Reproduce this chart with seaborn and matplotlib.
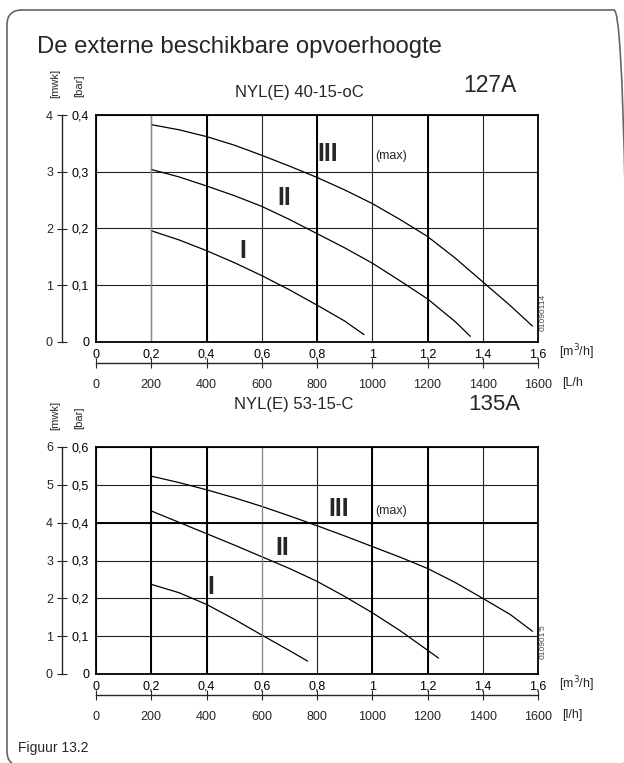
import pandas as pd
import matplotlib.pyplot as plt
import seaborn as sns
from matplotlib.patches import FancyBboxPatch
from matplotlib.ticker import FuncFormatter, MultipleLocator

# pump curves: flow [m3/h] -> head [bar]
top_I_flow = [0.2, 0.3, 0.4, 0.5, 0.6, 0.7, 0.8, 0.9, 0.97]
top_I_head = [0.196, 0.18, 0.161, 0.14, 0.117, 0.092, 0.065, 0.037, 0.013]
top_II_flow = [0.2, 0.3, 0.4, 0.5, 0.6, 0.7, 0.8, 0.9, 1.0, 1.1, 1.2, 1.3, 1.355]
top_II_head = [0.304, 0.291, 0.275, 0.258, 0.239, 0.216, 0.191, 0.166, 0.139, 0.108, 0.076, 0.036, 0.010]
top_III_flow = [0.2, 0.3, 0.4, 0.5, 0.6, 0.7, 0.8, 0.9, 1.0, 1.1, 1.2, 1.3, 1.4, 1.5, 1.58]
top_III_head = [0.383, 0.374, 0.362, 0.347, 0.329, 0.31, 0.29, 0.268, 0.244, 0.216, 0.186, 0.148, 0.106, 0.064, 0.028]

bot_I_flow = [0.2, 0.3, 0.4, 0.5, 0.6, 0.7, 0.766]
bot_I_head = [0.237, 0.215, 0.184, 0.145, 0.103, 0.062, 0.034]
bot_II_flow = [0.2, 0.3, 0.4, 0.5, 0.6, 0.7, 0.8, 0.9, 1.0, 1.1, 1.2, 1.24]
bot_II_head = [0.431, 0.401, 0.371, 0.341, 0.31, 0.279, 0.245, 0.205, 0.162, 0.115, 0.063, 0.042]
bot_III_flow = [0.2, 0.3, 0.4, 0.5, 0.6, 0.7, 0.8, 0.9, 1.0, 1.1, 1.2, 1.3, 1.4, 1.5, 1.58]
bot_III_head = [0.523, 0.506, 0.487, 0.466, 0.443, 0.418, 0.392, 0.365, 0.337, 0.309, 0.279, 0.242, 0.2, 0.157, 0.113]

mwk_top = [0, 1, 2, 3, 4]
mwk_bot = [0, 1, 2, 3, 4, 5, 6]
lh_ticks = [0, 200, 400, 600, 800, 1000, 1200, 1400, 1600]


def make_df(flows, heads):
    parts = []
    for name, f, h in zip(['I', 'II', 'III'], flows, heads):
        parts.append(pd.DataFrame({'flow': f, 'head': h, 'stand': name}))
    return pd.concat(parts, ignore_index=True)


df_top = make_df([top_I_flow, top_II_flow, top_III_flow], [top_I_head, top_II_head, top_III_head])
df_bot = make_df([bot_I_flow, bot_II_flow, bot_III_flow], [bot_I_head, bot_II_head, bot_III_head])

sns.set_style("white")
plt.rcParams['font.family'] = ['Liberation Sans', 'DejaVu Sans']

W, H = 624, 763
fig = plt.figure(figsize=(W / 100, H / 100), dpi=100)

comma = FuncFormatter(lambda v, p: f'{v:g}'.replace('.', ','))


def panel(top_px, df, ymax, mwk, lh_unit):
    ax = fig.add_axes([96 / W, 1 - (top_px + 227) / H, 442 / W, 227 / H])
    sns.lineplot(data=df, x='flow', y='head', hue='stand', palette=['black'] * 3,
                 legend=False, ax=ax, lw=0.9)
    ax.set_xlim(0, 1.6)
    ax.set_ylim(0, ymax)
    ax.xaxis.set_major_locator(MultipleLocator(0.2))
    ax.yaxis.set_major_locator(MultipleLocator(0.1))
    ax.xaxis.set_major_formatter(comma)
    ax.yaxis.set_major_formatter(comma)
    ax.grid(True, color='#222222', lw=0.8)
    ax.set_xlabel('')
    ax.set_ylabel('')
    for s in ax.spines.values():
        s.set_visible(True)
        s.set_color('black')
        s.set_linewidth(1.3)
    ax.tick_params(direction='out', length=3, width=0.8, labelsize=9, pad=2, colors='black')

    # second scale in mwk on the left
    sy = ax.secondary_yaxis(-0.077, functions=(lambda v: v * 10, lambda v: v / 10))
    sy.set_yticks(mwk)
    sy.tick_params(direction='inout', length=7, width=0.8, labelsize=9, pad=3)
    sy.spines['left'].set_linewidth(1.0)

    # second scale in l/h below
    sx = ax.secondary_xaxis(-0.0925, functions=(lambda v: v * 1000, lambda v: v / 1000))
    sx.set_xticks(lh_ticks)
    sx.tick_params(direction='inout', length=7, width=0.8, labelsize=9, pad=8)
    sx.spines['bottom'].set_linewidth(1.0)

    fig.text(559 / W, 1 - (top_px + 237) / H, '[m$^3$/h]', fontsize=9, va='center')
    fig.text(562 / W, 1 - (top_px + 268) / H, lh_unit, fontsize=9, va='center')
    fig.text(55 / W, 1 - (top_px - 32) / H, '[mwk]', fontsize=8, rotation=90, ha='center', va='center')
    fig.text(79 / W, 1 - (top_px - 29) / H, '[bar]', fontsize=8, rotation=90, ha='center', va='center')
    return ax


ax1 = panel(115, df_top, 0.4, mwk_top, '[L/h')
ax2 = panel(447, df_bot, 0.6, mwk_bot, '[l/h]')

# heavier grid lines as in the original print
for x in [0.4, 0.8, 1.2]:
    ax1.axvline(x, color='black', lw=1.4)
ax1.axvline(0.2, color='#888888', lw=1.0)
for x in [0.2, 0.4, 1.0, 1.2]:
    ax2.axvline(x, color='black', lw=1.4)
ax2.axvline(0.6, color='#888888', lw=0.8)
ax2.axhline(0.4, color='black', lw=1.4)

# curve labels
ax1.text(0.84, 0.332, 'III', fontsize=18, fontweight='bold', ha='center', va='center')
ax1.text(1.01, 0.328, '(max)', fontsize=9, va='center')
ax1.text(0.68, 0.253, 'II', fontsize=18, fontweight='bold', ha='center', va='center')
ax1.text(0.53, 0.161, 'I', fontsize=18, fontweight='bold', ha='center', va='center')
ax2.text(0.88, 0.435, 'III', fontsize=18, fontweight='bold', ha='center', va='center')
ax2.text(1.01, 0.432, '(max)', fontsize=9, va='center')
ax2.text(0.675, 0.332, 'II', fontsize=18, fontweight='bold', ha='center', va='center')
ax2.text(0.415, 0.23, 'I', fontsize=18, fontweight='bold', ha='center', va='center')

# titles
fig.text(37 / W, 1 - 47 / H, 'De externe beschikbare opvoerhoogte', fontsize=17.2, va='center')
fig.text(299 / W, 1 - 92 / H, 'NYL(E) 40-15-oC', fontsize=12, ha='center', va='center')
fig.text(490 / W, 1 - 85 / H, '127A', fontsize=16.5, ha='center', va='center')
fig.text(294 / W, 1 - 405 / H, 'NYL(E) 53-15-C', fontsize=12, ha='center', va='center')
fig.text(494 / W, 1 - 405 / H, '135A', fontsize=16, ha='center', va='center')
fig.text(543 / W, 1 - 312 / H, '01090114', fontsize=6, rotation=90, ha='center', va='center', color='#444444')
fig.text(543 / W, 1 - 642 / H, "010901'5", fontsize=6, rotation=90, ha='center', va='center', color='#444444')
fig.text(18 / W, 1 - 748 / H, 'Figuur 13.2', fontsize=10, va='center')

# rounded frame around the figure, right and bottom edges run off the page
frame = FancyBboxPatch((0.07, -0.03), 6.22, 7.56, boxstyle='round,pad=0,rounding_size=0.15',
                       transform=fig.dpi_scale_trans, fill=False, ec='#666666', lw=1.2)
fig.add_artist(frame)

fig.savefig('out.png', dpi=100)
